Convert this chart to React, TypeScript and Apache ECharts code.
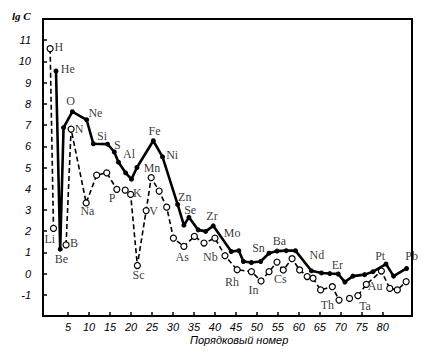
import React, { useEffect, useRef } from "react";
import * as echarts from "echarts";

// Even-Z elements (solid line, filled dots): position on axis, lg C
const evenX = [2.1, 3.1, 3.9, 6.0, 9.4, 11.0, 14.4, 16.0, 17.0, 18.7, 20.1, 21.4, 25.3, 27.5, 31.1, 32.6, 33.8, 36.0, 37.8, 39.6, 43.9, 45.7, 46.8, 48.7, 50.9, 52.9, 54.8, 57.0, 59.2, 63.0, 65.4, 67.4, 69.4, 71.0, 72.9, 75.7, 77.7, 80.8, 82.6, 85.7];
const evenY = [9.55, 1.15, 6.88, 7.63, 7.25, 6.12, 6.1, 5.73, 5.25, 4.75, 4.45, 5.0, 6.26, 5.5, 3.26, 2.28, 2.65, 2.06, 1.99, 2.25, 1.04, 1.08, 0.57, 0.52, 0.57, 0.96, 1.06, 1.08, 1.08, 0.13, 0.03, 0.0, -0.02, -0.4, -0.12, -0.05, 0.09, 0.45, -0.12, 0.24];

// Odd-Z elements (dashed line, open circles); null = break in line
const oddX = [0.7, 1.5, null, 4.5, 5.7, 9.3, 11.8, 14.2, 16.6, 18.6, 19.9, 21.5, 23.6, 24.8, 26.7, 28.5, 30.1, 32.6, 35.1, 37.4, 40.0, 42.4, 45.3, 48.7, 51.0, 52.9, 54.8, 56.3, 58.4, 60.2, 62.0, 63.4, 65.2, 68.0, 69.6, null, 72.1, null, 74.1, 76.1, 79.7, 81.7, 83.5, 85.6];
const oddY = [10.6, 2.13, null, 1.35, 6.81, 3.33, 4.64, 4.75, 3.97, 3.93, 3.73, 0.38, 2.97, 4.52, 3.89, 3.13, 1.67, 1.28, 1.75, 1.44, 1.67, 0.84, 0.18, 0.09, -0.35, 0.09, 0.54, 0.17, 0.7, 0.17, -0.14, -0.22, -0.77, -0.62, -1.25, null, -1.17, null, -1.04, -0.51, 0.12, -0.7, -0.77, -0.38];

// Element symbols and label positions (axis coordinates)
const labelNames = ["H", "He", "Li", "Be", "B", "O", "N", "Ne", "Si", "S", "Al", "Na", "P", "K", "Sc", "V", "Mn", "Fe", "Ni", "Zn", "Se", "As", "Zr", "Nb", "Mo", "Rh", "Sn", "In", "Ba", "Cs", "Nd", "Er", "Th", "Ta", "Pt", "Au", "Pb"];
const labelX = [2.8, 4.9, 0.6, 3.4, 6.4, 5.6, 7.6, 11.5, 13.1, 16.7, 19.5, 9.6, 15.5, 21.5, 21.8, 25.4, 25.0, 25.6, 29.8, 32.8, 34.1, 32.2, 39.3, 38.9, 44.1, 44.1, 50.4, 49.2, 55.4, 55.6, 64.3, 69.2, 66.8, 75.8, 79.4, 78.2, 86.9];
const labelY = [10.68, 9.62, 1.64, 0.68, 1.44, 8.15, 6.81, 7.55, 6.49, 6.07, 5.63, 2.94, 3.54, 3.78, -0.06, 2.94, 4.99, 6.73, 5.58, 3.6, 3.02, 0.76, 2.7, 0.77, 1.91, -0.38, 1.2, -0.77, 1.55, -0.25, 0.89, 0.41, -1.48, -1.52, 0.81, -0.57, 0.81];

const xTicks = [5, 10, 15, 20, 25, 30, 35, 40, 45, 50, 55, 60, 65, 70, 75, 80];
const yTicks = [-1, 0, 1, 2, 3, 4, 5, 6, 7, 8, 9, 10, 11];

const SERIF = "'Liberation Serif', 'DejaVu Serif', serif";

export default function App() {
  const ref = useRef<HTMLDivElement>(null);
  useEffect(() => {
    document.body.style.margin = "0";
    if (!ref.current) return;
    const chart = echarts.init(ref.current, undefined, { renderer: "svg" });
    const evenData = evenX.map((x, i) => [x, evenY[i]]);
    const oddData = oddX.map((x, i) => (x === null ? [null, null] : [x, oddY[i]]));
    const labelData = labelNames.map((n, i) => ({ name: n, value: [labelX[i], labelY[i]] }));
    chart.setOption({
      animation: false,
      backgroundColor: "#fff",
      grid: { left: 43, right: 20, top: 19, bottom: 41, show: false },
      xAxis: {
        type: "value",
        min: -1,
        max: 87,
        splitLine: { show: false },
        axisLine: { show: true, onZero: false, lineStyle: { color: "#000", width: 2 } },
        axisTick: { show: true, inside: true, length: 4, customValues: xTicks, lineStyle: { color: "#000", width: 1.5 } },
        axisLabel: {
          customValues: xTicks,
          color: "#000",
          fontStyle: "italic",
          fontFamily: "'Liberation Sans', sans-serif",
          fontSize: 11,
          margin: 5,
        },
      },
      yAxis: {
        type: "value",
        min: -2,
        max: 12,
        splitLine: { show: false },
        axisLine: { show: true, onZero: false, lineStyle: { color: "#000", width: 2 } },
        axisTick: { show: true, inside: true, length: 4, customValues: yTicks, lineStyle: { color: "#000", width: 1.5 } },
        axisLabel: {
          customValues: yTicks,
          color: "#000",
          fontStyle: "italic",
          fontFamily: "'Liberation Sans', sans-serif",
          fontSize: 11,
          margin: 12,
        },
      },
      graphic: [
        {
          type: "rect",
          shape: { x: 43, y: 19, width: 369, height: 297 },
          style: { fill: "none", stroke: "#000", lineWidth: 2 },
          silent: true,
          z: 0,
        },
        {
          type: "text",
          left: 12,
          top: 10,
          style: { text: "lg C", fill: "#000", font: "italic bold 11px " + SERIF },
        },
        {
          type: "text",
          left: 190,
          top: 334,
          style: { text: "Порядковый номер", fill: "#000", font: "italic 11px 'Liberation Sans', sans-serif" },
        },
      ],
      series: [
        {
          type: "line",
          data: oddData,
          connectNulls: false,
          symbol: "circle",
          symbolSize: 6,
          itemStyle: { color: "#fff", borderColor: "#000", borderWidth: 1.2 },
          lineStyle: { color: "#000", width: 1.6, type: [5, 3] },
          z: 3,
        },
        {
          type: "line",
          data: evenData,
          symbol: "circle",
          symbolSize: 5,
          itemStyle: { color: "#000" },
          lineStyle: { color: "#000", width: 2.6 },
          z: 4,
        },
        {
          type: "scatter",
          data: labelData,
          symbolSize: 0,
          silent: true,
          label: {
            show: true,
            position: "inside",
            formatter: (p: any) => p.name,
            color: "#000",
            fontFamily: SERIF,
            fontSize: 12,
          },
          z: 5,
        },
      ],
    });
    return () => chart.dispose();
  }, []);
  return <div ref={ref} style={{ width: 432, height: 357 }} />;
}
